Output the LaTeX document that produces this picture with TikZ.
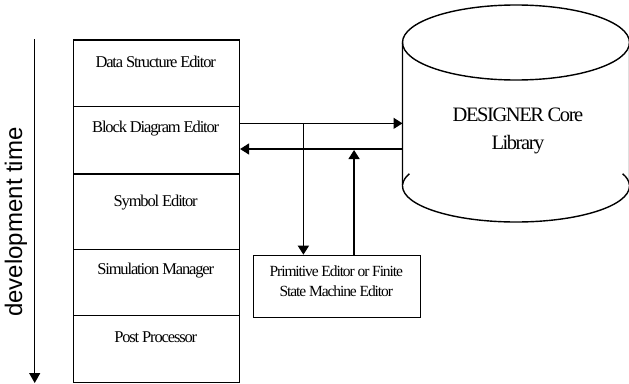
\documentclass[tikz,border=0pt]{standalone}
\usepackage{fontspec}
\setmainfont[LetterSpace=-7]{Liberation Serif}
\newfontfamily\devsans{Liberation Sans}
\usetikzlibrary{arrows.meta}

\begin{document}
\begin{tikzpicture}[x=1pt, y=-1pt, line width=1.4pt,
  arr/.style={-{Triangle[length=9pt,width=11pt]}},
  layer/.style={draw, minimum width=166pt, inner sep=0pt, anchor=north west},
  lbl/.style={font=\fontsize{16.5}{18}\selectfont, inner sep=0pt},
  small/.style={font=\fontsize{15.5}{20}\selectfont, inner sep=0pt, align=center},
  big/.style={font=\fontsize{20.5}{28}\selectfont, inner sep=0pt, align=center}]
\useasboundingbox (0,0) rectangle (629,383);

% development-time axis
\coordinate (t0) at (34.7,39);
\coordinate (t1) at (34.7,383);
\draw[-{Triangle[length=10pt,width=11pt]}] (t0) -- (t1);
\node[rotate=90, inner sep=0pt, font=\devsans\fontsize{24}{24}\selectfont] (dev) at (16,222) {development time};

% stack of tools
\node[layer, minimum height=66.7pt] (dse) at (72.7,39.3) {};
\node[layer, minimum height=67.3pt] (bde) at (72.7,106) {};
\node[layer, minimum height=75.4pt] (sym) at (72.7,173.3) {};
\node[layer, minimum height=66.3pt] (sim) at (72.7,248.7) {};
\node[layer, minimum height=66.7pt] (post) at (72.7,315) {};

\node[lbl] (dset) at (155.7,62) {Data Structure Editor};
\node[lbl] (bdet) at (155.7,129) {Block Diagram Editor};
\node[lbl] (symt) at (155.7,203) {Symbol Editor};
\node[lbl] (simt) at (155.7,271) {Simulation Manager};
\node[lbl] (postt) at (155.7,337) {Post Processor};

% core library cylinder
\draw (516,42.5) ellipse [x radius=113.5pt, y radius=37.5pt];
\draw (402.5,42.5) -- (402.5,186)
  arc[start angle=180, end angle=360, x radius=113.5pt, y radius=36pt] -- (629.5,42.5);
\draw (516,186) ++(178:113.5pt and 36pt) arc[start angle=178, end angle=160, x radius=113.5pt, y radius=36pt];
\draw (516,186) ++(2:113.5pt and 36pt) arc[start angle=2, end angle=20, x radius=113.5pt, y radius=36pt];
\node[minimum width=227pt, minimum height=143.5pt, inner sep=0pt, outer sep=0pt] (cyl) at (516,114.25) {};
\node[big] (lib) at (518,131) {DESIGNER Core\\Library};

% primitive editor
\node[draw, minimum width=167.3pt, minimum height=62pt, inner sep=0pt, anchor=north west] (prim) at (252.7,254.7) {};
\node[small] (primt) at (336.3,281) {Primitive Editor or Finite\\State Machine Editor};

% connectors
\coordinate (up) at ([yshift=17pt]bde.east);
\coordinate (lo) at ([yshift=-8.65pt]bde.east);
\draw[arr] (up) -- (up -| cyl.west);
\draw[arr] (lo -| cyl.west) -- (lo);
\draw[arr] ([xshift=-33.65pt]prim.north |- up) -- ([xshift=-33.65pt]prim.north);
\draw[arr, shorten >=1pt] ([xshift=17pt]prim.north) -- ([xshift=17pt]prim.north |- lo);
\end{tikzpicture}
\end{document}
